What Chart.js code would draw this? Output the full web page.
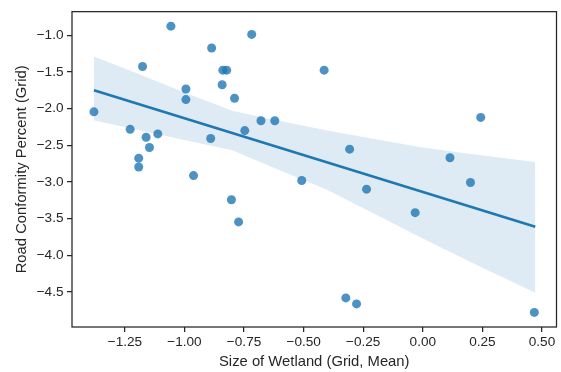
<!DOCTYPE html>
<html>
<head>
<meta charset="utf-8">
<script src="https://cdn.jsdelivr.net/npm/chart.js@4.4.1/dist/chart.umd.min.js"></script>
<style>
  body { margin: 0; background: #fff; }
  #wrap { width: 561px; height: 372px; position: relative; }
</style>
</head>
<body>
<div id="wrap"><canvas id="plot"></canvas></div>
<script>
// wetland size (x) vs road conformity (y), one point per grid cell
const wetlandSize = [
    -1.380, -1.057, -1.176, -0.994, -0.994, -0.886, -0.839, -0.823, -0.842, -0.718,
    -0.790, -0.679, -0.621, -0.747, -0.890, -1.228, -1.161, -1.112, -1.147, -1.192,
    -1.192, -0.414, -0.307, 0.114, 0.243, -0.962, -0.803, -0.773, -0.508, -0.236,
    -0.032, 0.200, -0.323, -0.278, 0.468
];
const roadConformity = [
    -2.045, -0.878, -1.427, -1.734, -1.878, -1.175, -1.477, -1.477, -1.676, -0.990,
    -1.860, -2.166, -2.166, -2.301, -2.409, -2.284, -2.392, -2.346, -2.531, -2.676,
    -2.797, -1.477, -2.554, -2.670, -2.121, -2.914, -3.243, -3.545, -2.981, -3.099,
    -3.419, -3.008, -4.581, -4.662, -4.778
];

// fitted line endpoints and confidence band
const fitX = [-1.380, 0.472];
const fitY = [-1.752, -3.612];
const bandX = [-1.38, -1.2, -1.0, -0.8, -0.6, -0.4, -0.2, 0.0, 0.2, 0.472];
const bandUpper = [-1.29, -1.52, -1.78, -2.03, -2.17, -2.30, -2.42, -2.53, -2.62, -2.73];
const bandLower = [-2.16, -2.29, -2.43, -2.57, -2.84, -3.11, -3.44, -3.77, -4.09, -4.51];

const xTicks = [-1.25, -1.0, -0.75, -0.5, -0.25, 0.0, 0.25, 0.5];
const yTicks = [-4.5, -4.0, -3.5, -3.0, -2.5, -2.0, -1.5, -1.0];

const blue = '#1f77b4';
const ink = '#262626';
const family = '"Liberation Sans", Arial, sans-serif';

function pairs(xs, ys) {
    return xs.map((x, i) => ({ x: x, y: ys[i] }));
}

function minus(s) {
    return s.replace('-', '\u2212');
}

const frame = {
    id: 'frame',
    afterDatasetsDraw(chart) {
        const { ctx, chartArea: a } = chart;
        ctx.save();
        ctx.strokeStyle = ink;
        ctx.lineWidth = 1.25;
        ctx.strokeRect(a.left, a.top, a.right - a.left, a.bottom - a.top);
        ctx.restore();
    }
};

const ctx = document.getElementById('plot').getContext('2d');
new Chart(ctx, {
    type: 'scatter',
    data: {
        datasets: [
            {
                type: 'line',
                data: pairs(bandX, bandUpper),
                borderWidth: 0,
                pointRadius: 0,
                fill: false,
                order: 2
            },
            {
                type: 'line',
                data: pairs(bandX, bandLower),
                borderWidth: 0,
                pointRadius: 0,
                backgroundColor: 'rgba(31, 119, 180, 0.15)',
                fill: '-1',
                order: 2
            },
            {
                type: 'line',
                data: pairs(fitX, fitY),
                borderColor: blue,
                borderWidth: 2.6,
                pointRadius: 0,
                fill: false,
                order: 1
            },
            {
                data: pairs(wetlandSize, roadConformity),
                backgroundColor: 'rgba(31, 119, 180, 0.8)',
                borderWidth: 0,
                pointRadius: 4.5,
                order: 3
            }
        ]
    },
    options: {
        responsive: true,
        maintainAspectRatio: false,
        animation: false,
        layout: { padding: { top: 9, right: 1, left: 0, bottom: 0 } },
        plugins: {
            legend: { display: false },
            tooltip: { enabled: false }
        },
        scales: {
            x: {
                type: 'linear',
                min: -1.472,
                max: 0.561,
                afterBuildTicks: scale => { scale.ticks = xTicks.map(v => ({ value: v })); },
                afterFit: scale => { scale.height = 45; },
                border: { display: false },
                grid: {
                    drawOnChartArea: false,
                    drawTicks: true,
                    tickLength: 5,
                    color: ink,
                    lineWidth: 1.25
                },
                ticks: {
                    padding: 2.5,
                    color: ink,
                    font: { family: family, size: 13.6 },
                    callback: v => minus(v.toFixed(2))
                },
                title: {
                    display: true,
                    text: 'Size of Wetland (Grid, Mean)',
                    color: ink,
                    font: { family: family, size: 14.8 },
                    padding: { top: 0, bottom: 1 }
                }
            },
            y: {
                type: 'linear',
                min: -4.977,
                max: -0.68,
                afterBuildTicks: scale => { scale.ticks = yTicks.map(v => ({ value: v })); },
                afterFit: scale => { scale.width = 72; },
                border: { display: false },
                grid: {
                    drawOnChartArea: false,
                    drawTicks: true,
                    tickLength: 5,
                    color: ink,
                    lineWidth: 1.25
                },
                ticks: {
                    padding: 3.5,
                    color: ink,
                    font: { family: family, size: 13.6 },
                    callback: v => minus(v.toFixed(1))
                },
                title: {
                    display: true,
                    text: 'Road Conformity Percent (Grid)',
                    color: ink,
                    font: { family: family, size: 14.8 },
                    padding: { top: 13, bottom: 0 }
                }
            }
        }
    },
    plugins: [frame]
});
</script>
</body>
</html>
